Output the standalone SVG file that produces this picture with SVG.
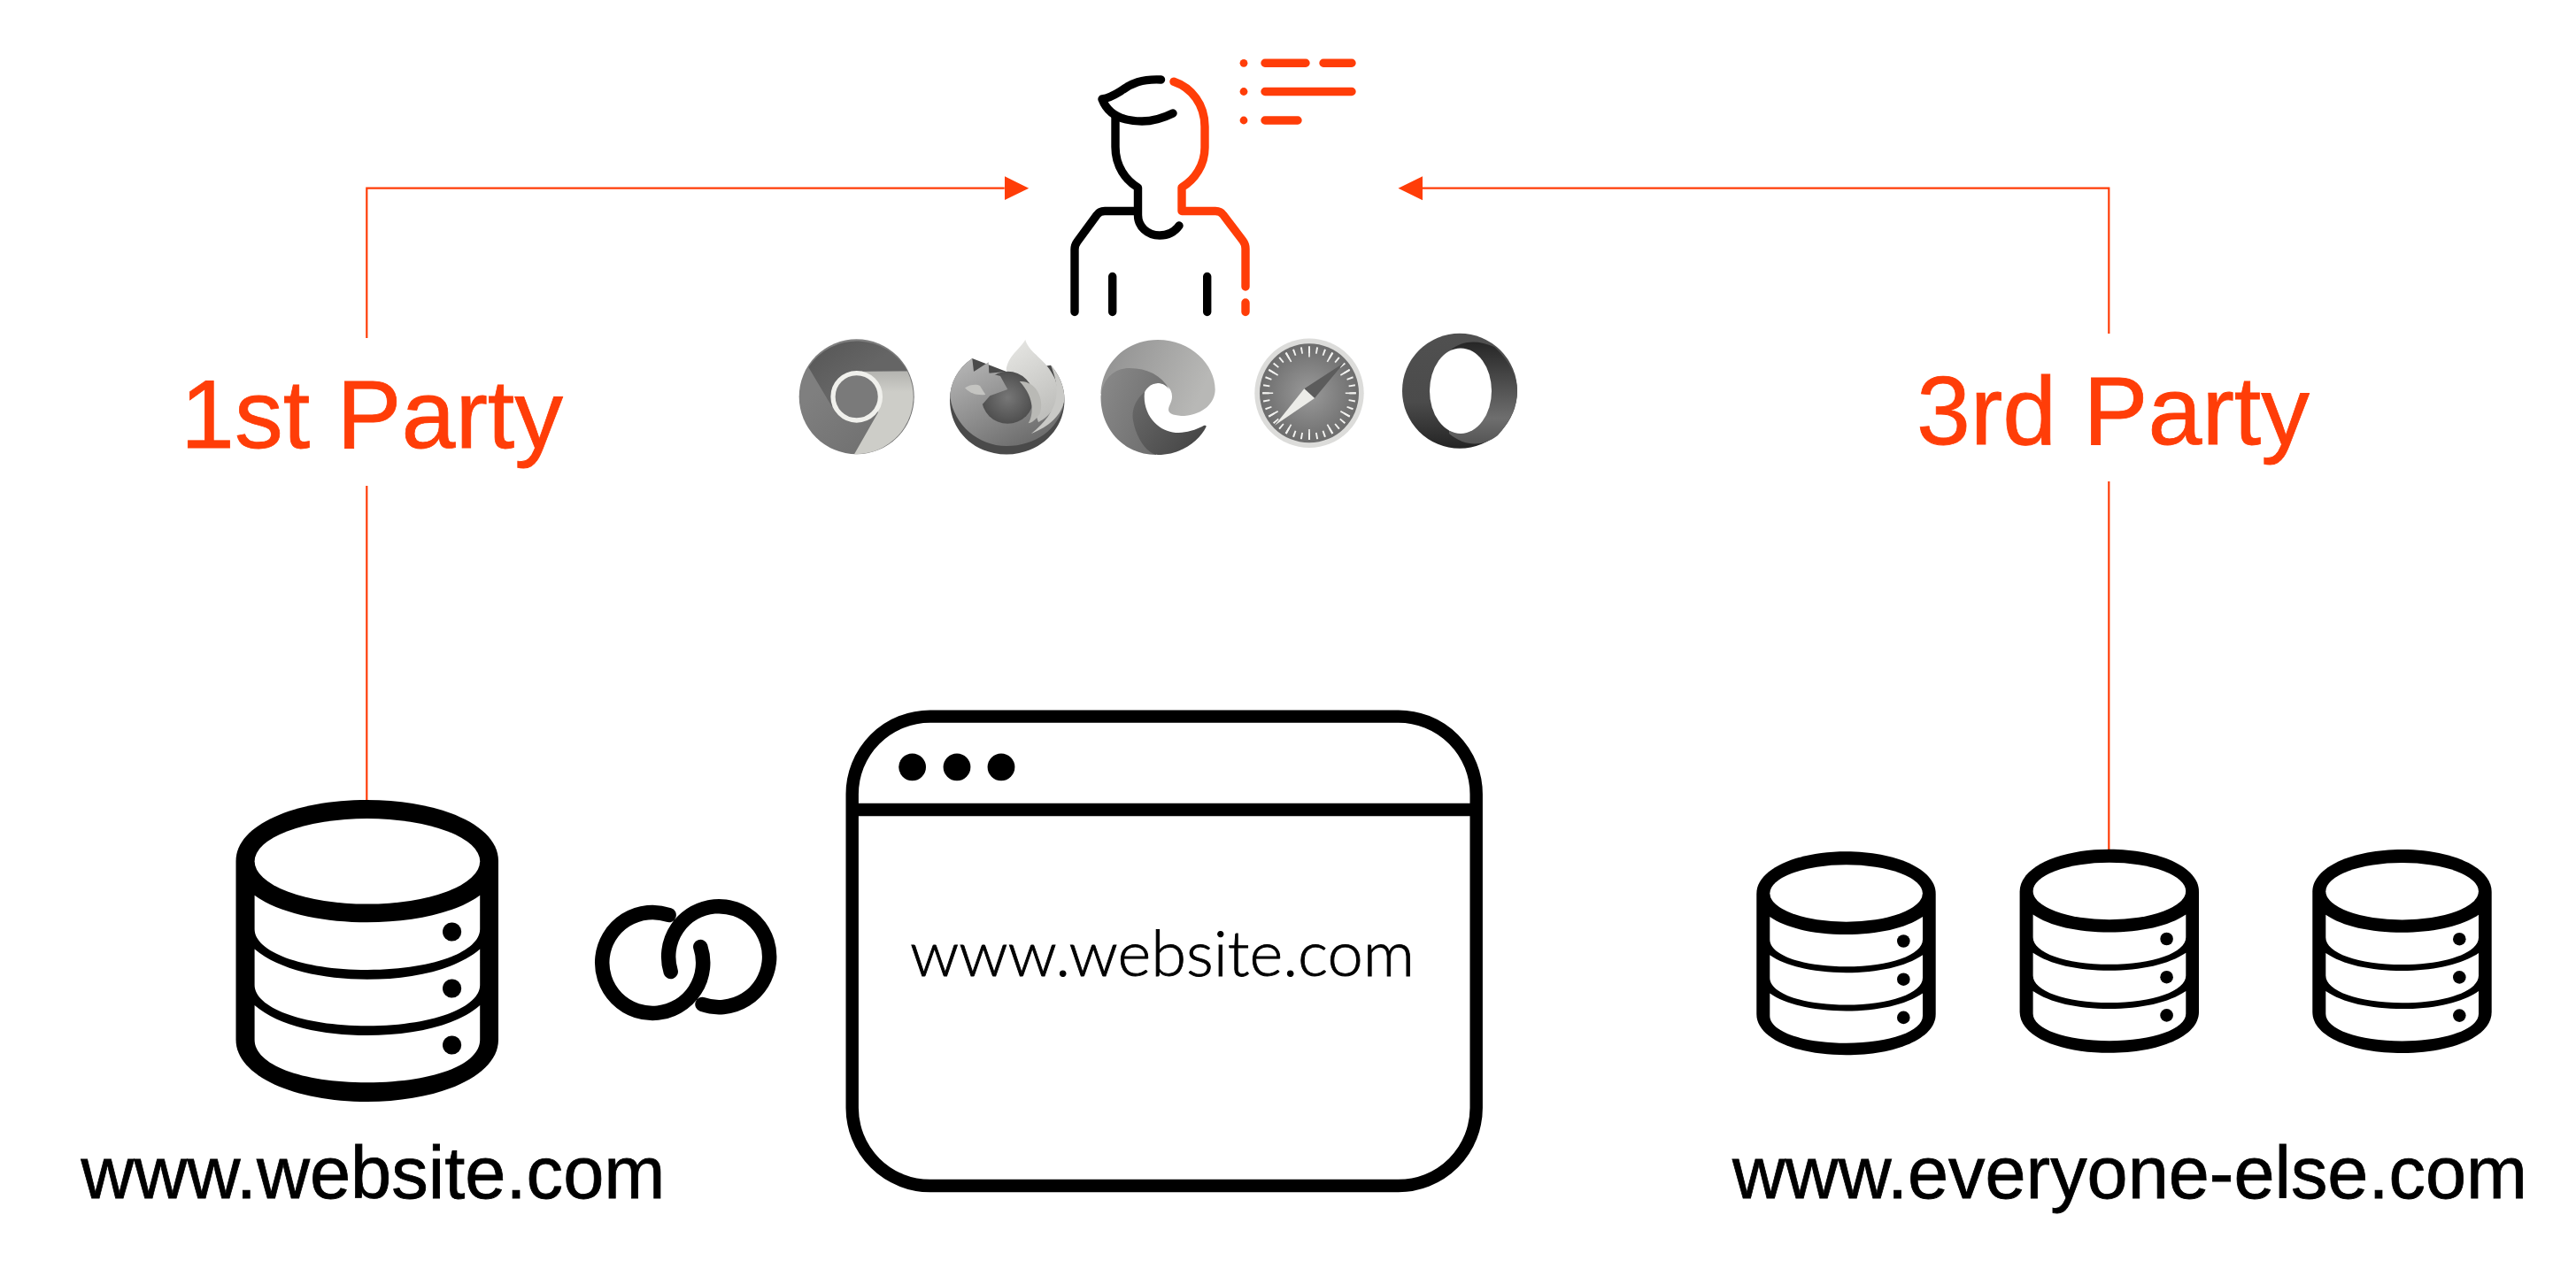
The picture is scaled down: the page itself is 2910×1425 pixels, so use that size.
<svg xmlns="http://www.w3.org/2000/svg" xmlns:xlink="http://www.w3.org/1999/xlink" width="2910" height="1425" viewBox="0 0 2910 1425">
<style>
.conn{fill:none;stroke:#FF3D08;stroke-width:2.2}
.ok{fill:none;stroke:#000;stroke-width:9.4;stroke-linecap:round;stroke-linejoin:round}
.or{fill:none;stroke:#FF3D08;stroke-width:9.4;stroke-linecap:round;stroke-linejoin:round}
.orf{fill:#FF3D08}
.lab{font-family:"Liberation Sans",Arial,sans-serif;stroke-width:0.8}
.w{fill:#fff}
</style>
<defs>
<marker id="arr" markerUnits="userSpaceOnUse" markerWidth="28" markerHeight="28" refX="0" refY="14" orient="auto"><path d="M0 0.5L27.5 14L0 27.5Z" fill="#FF3D08"/></marker>
<g id="dbsmall">
<path d="M1984.3 1010C1984.3 982 2030 962.3 2085.5 962.3C2141 962.3 2186.7 982 2186.7 1010V1146C2186.7 1174 2141 1192.3 2085.5 1192.3C2030 1192.3 1984.3 1174 1984.3 1146Z"/>
<ellipse class="w" cx="2085.6" cy="1009.5" rx="86.3" ry="32.2"/>
<g id="dbband"><path class="w" d="M1999.3 1036C2018 1049 2050 1056 2085.6 1056C2121 1056 2153 1049 2172 1036V1061.7C2172 1079 2135 1092.3 2085.6 1092.3C2036 1092.3 1999.3 1079 1999.3 1061.7Z"/><circle cx="2150.3" cy="1063.5" r="7.3"/></g>
<use href="#dbband" y="43.2"/>
<use href="#dbband" y="86.4"/>
</g>
<linearGradient id="chT" x1="0" y1="0" x2="1" y2="1"><stop offset="0" stop-color="#555"/><stop offset="0.5" stop-color="#656565"/></linearGradient>
<linearGradient id="chR" x1="0" y1="0" x2="0" y2="1"><stop offset="0" stop-color="#b4b4b0"/><stop offset="0.25" stop-color="#cdcdc8"/></linearGradient>
<linearGradient id="chL" x1="0" y1="0" x2="1" y2="1"><stop offset="0.3" stop-color="#7f7f7f"/><stop offset="1" stop-color="#6a6a6a"/></linearGradient>
<linearGradient id="ffMid" gradientUnits="userSpaceOnUse" x1="1095" y1="405" x2="1150" y2="505"><stop offset="0" stop-color="#b4b4b4"/><stop offset="1" stop-color="#6e6e6e"/></linearGradient>
<linearGradient id="ffFl" x1="0.3" y1="0" x2="0.7" y2="1"><stop offset="0" stop-color="#e4e4e1"/><stop offset="1" stop-color="#bdbdba"/></linearGradient>
<radialGradient id="ffG"><stop offset="0" stop-color="#777"/><stop offset="1" stop-color="#4f4f4f"/></radialGradient>
<linearGradient id="edL" x1="0" y1="0" x2="1" y2="0.3"><stop offset="0" stop-color="#8e8e8e"/><stop offset="1" stop-color="#b8b8b6"/></linearGradient>
<linearGradient id="edM" x1="0" y1="0" x2="1" y2="0.5"><stop offset="0" stop-color="#8a8a8a"/><stop offset="1" stop-color="#6e6e6e"/></linearGradient>
<linearGradient id="edD" x1="0" y1="0" x2="1" y2="0.6"><stop offset="0" stop-color="#6a6a6a"/><stop offset="1" stop-color="#474747"/></linearGradient>
<radialGradient id="saf"><stop offset="0" stop-color="#9a9a9a"/><stop offset="1" stop-color="#6d6d6d"/></radialGradient>
<linearGradient id="opR" x1="0" y1="0" x2="0" y2="1"><stop offset="0" stop-color="#262626"/><stop offset="0.75" stop-color="#6e6e6e"/><stop offset="1" stop-color="#555"/></linearGradient>
<linearGradient id="opL" x1="0" y1="0" x2="0" y2="1"><stop offset="0" stop-color="#505050"/><stop offset="0.6" stop-color="#4b4b4b"/><stop offset="1" stop-color="#242424"/></linearGradient>
</defs>
<rect width="2910" height="1425" fill="#fff"/>

<g id="connectors">
<path class="conn" d="M414.3 382V212.7H1134.7" marker-end="url(#arr)"/>
<path class="conn" d="M414.3 549V905"/>
<path class="conn" d="M2382.3 377V212.7H1607" marker-end="url(#arr)"/>
<path class="conn" d="M2382.3 544V960"/>
</g>

<g id="user">
<path class="ok" d="M1311.5 90C1290 89 1278 94 1266 103C1258 108 1252 111 1245 112C1250 125 1262 137 1290 137C1305 137 1315 133 1325 128"/>
<path class="ok" d="M1260 131V166C1260 188 1272 204 1285.5 212V243C1285.5 256 1296 266 1310 266C1320 266 1327 262 1332 255"/>
<path class="ok" d="M1285 238.5H1248Q1242 238.5 1239 243L1217 273Q1214 277 1214 282V352.5"/>
<path class="ok" d="M1256.7 312.5V352.5M1363.7 312.5V352.5"/>
<path class="or" d="M1326 92.3C1346 99 1361 118 1361 143V166.7C1361 186 1350 203 1335 211.7V238.5H1373Q1379 238.5 1382 243L1404 272Q1407 276 1407 281V324M1407 342V352.5"/>
<g class="orf"><circle cx="1405" cy="71.3" r="4.4"/><circle cx="1405" cy="103.5" r="4.4"/><circle cx="1405" cy="136" r="4.4"/></g>
<path class="or" d="M1429 71.3H1475M1495 71.3H1527M1429 103.5H1527M1429 136H1466"/>
</g>

<g id="chrome">
<circle cx="967.7" cy="448.3" r="65" fill="url(#chL)"/>
<path d="M913.3 415A65 65 0 0 1 1025 419.5H967.7L940 460Z" fill="url(#chT)"/>
<path d="M1025 419.5A65 65 0 0 1 965 513.3L992 466L967 420Z" fill="url(#chR)"/>
<circle cx="967.7" cy="448.3" r="26.7" fill="#7a7a7a" stroke="#f0f0ec" stroke-width="5.3"/>
</g>

<g id="firefox">
<path d="M1098.3 405C1082 416 1073 433 1073 452C1073 487 1101 513.5 1137 513.5C1173 513.5 1202.5 487 1202.5 452C1202.5 436 1196 423 1187 412.7L1137 420Z" fill="#4a4a4a"/>
<path d="M1098.3 405C1082 416 1073 433 1073.5 450C1078 480 1105 504 1137 504C1170 504 1195 485 1201.5 458L1190 425L1136 420L1117.3 421.7L1116.7 409.3L1100 420Z" fill="url(#ffMid)"/>
<path d="M1136.7 418.3C1138 403 1151.7 395 1158.3 384C1163 400 1181.7 405 1191.7 428C1194 435 1196 443 1195 450C1190 470 1173 477 1173 477L1160 440Z" fill="url(#ffFl)"/>
<path d="M1187 412.7C1196 423 1202.5 436 1202.5 452C1199 470 1185 482 1165 490C1180 478 1190 465 1193 450C1195 437 1192 425 1187 412.7Z" fill="#c9c9c6"/>
<circle cx="1138.3" cy="449.3" r="29.5" fill="url(#ffG)"/>
<path d="M1151.7 431C1170 430 1180 450 1175 466.7C1170 475 1165 478 1161.7 478.3C1167 470 1170 450 1151.7 431Z" fill="#b9b9b5"/>
<path d="M1100 420L1116 416L1117.3 421.7L1130 425L1138.3 440L1118.3 447.3L1110 456.7C1100 450 1095 440 1100 420Z" fill="url(#ffMid)"/>
<path d="M1090 438.3C1096 434 1104 434 1107 436L1113.3 446C1104 447 1096 445 1090 438.3Z" fill="#c4c4c1"/>
</g>

<g id="edge">
<path d="M1243.5 445C1245 410 1272 384 1308 384C1345 384 1372.7 412 1372.7 440C1372.7 455 1360 468 1338 470C1328 470 1320 468 1320 463C1320 458 1324 455 1324 448C1324 438 1316 433 1308 433L1270 440Z" fill="url(#edL)"/>
<path d="M1243.5 448C1246 428 1258 416 1276 416C1296 416 1312 424 1321 440C1316 434 1312 433 1308 433C1300 433 1293 440 1292 447C1290 462 1297 474 1305 480L1306 514C1270 514 1243 485 1243.5 448Z" fill="url(#edM)"/>
<path d="M1293 443C1282 452 1278 465 1280 475C1284 498 1298 514 1308 514C1335 514 1355 498 1362.7 482C1362 480 1360 481 1358 482C1345 488 1338 489 1328 489C1310 488 1290 470 1293 443Z" fill="url(#edD)"/>
</g>

<g id="safari">
<circle cx="1479" cy="444.3" r="61.7" fill="#dcdcda"/>
<circle cx="1479" cy="444.3" r="56" fill="url(#saf)"/>
<circle cx="1479" cy="444.3" r="49" fill="none" stroke="#f2f2f0" stroke-width="7.4" pathLength="360" stroke-dasharray="2.2 7.8" stroke-dashoffset="1.1"/>
<circle cx="1479" cy="444.3" r="46.8" fill="none" stroke="#f2f2f0" stroke-width="12" pathLength="360" stroke-dasharray="2.3 27.7" stroke-dashoffset="1.15"/>
<path d="M1518.3 410L1473.3 439.3L1485 450Z" fill="#5c5c5c"/>
<path d="M1440 480.7L1473.3 439.3L1485 450Z" fill="#ecece8"/>
</g>

<g id="opera">
<circle cx="1649" cy="441.7" r="65" fill="url(#opL)"/>
<path d="M1638 396C1652 384 1670 384 1688 392C1703 405 1714 425 1714 441.7C1714 460 1705 478 1692 492C1675 505 1655 505 1637 490Z" fill="url(#opR)"/>
<ellipse cx="1650" cy="441.7" rx="35" ry="48.3" fill="#fff"/>
</g>

<g id="label-1st"><text class="lab" x="204" y="506" font-size="110" textLength="432" lengthAdjust="spacingAndGlyphs" fill="#FF3D08" stroke="#FF3D08">1st Party</text></g>
<g id="label-3rd"><text class="lab" x="2165" y="502" font-size="110" textLength="444" lengthAdjust="spacingAndGlyphs" fill="#FF3D08" stroke="#FF3D08">3rd Party</text></g>

<g id="db-first">
<path d="M266.5 973C266.5 932 333 904 414.7 904C496 904 563 932 563 973V1175C563 1216 496 1245 414.7 1245C333 1245 266.5 1216 266.5 1175Z"/>
<ellipse class="w" cx="414.9" cy="973.3" rx="127.3" ry="48.3"/>
<path class="w" d="M287.6 1011.7C315 1032 365 1042.3 414.9 1042.3C465 1042.3 515 1032 542.2 1011.7V1050C542.2 1075 490 1096 414.9 1096C340 1096 287.6 1075 287.6 1050Z"/>
<path class="w" d="M287.6 1072.5C315 1096 365 1106.7 414.9 1106.7C465 1106.7 515 1096 542.2 1072.5V1113.3C542.2 1138 490 1159.3 414.9 1159.3C340 1159.3 287.6 1138 287.6 1113.3Z"/>
<path class="w" d="M287.6 1136C315 1160 365 1170 414.9 1170C465 1170 515 1160 542.2 1136V1175C542.2 1203 490 1223.3 414.9 1223.3C340 1223.3 287.6 1203 287.6 1175Z"/>
<circle cx="510.6" cy="1053" r="10.6"/><circle cx="510.6" cy="1117" r="10.6"/><circle cx="510.6" cy="1181" r="10.6"/>
</g>

<g id="link">
<path d="M755.6 1034A57 57 0 1 0 791.3 1070M757.7 1098A57 57 0 1 1 793.5 1135" fill="none" stroke="#000" stroke-width="16.5" stroke-linecap="round"/>
</g>

<g id="window">
<rect x="962.7" y="809.6" width="705" height="530.4" rx="88" ry="88" fill="none" stroke="#000" stroke-width="14.4"/>
<path d="M962.7 915H1667.7" stroke="#000" stroke-width="14.4"/>
<circle cx="1030.6" cy="866.8" r="15.4"/><circle cx="1081" cy="866.8" r="15.4"/><circle cx="1131" cy="866.8" r="15.4"/>
<text x="1028" y="1102.7" font-family="Lato,'Open Sans',sans-serif" font-weight="300" font-size="71" textLength="570" lengthAdjust="spacingAndGlyphs" stroke="#000" stroke-width="0.9">www.website.com</text>
</g>

<g id="label-website"><text class="lab" x="91.5" y="1354" font-size="84" textLength="660" lengthAdjust="spacingAndGlyphs" stroke="#000">www.website.com</text></g>

<g id="db-a"><use href="#dbsmall"/></g>
<g id="db-b"><use href="#dbsmall" x="297.3" y="-2.5"/></g>
<g id="db-c"><use href="#dbsmall" x="628" y="-2.3"/></g>

<g id="label-else"><text class="lab" x="1957" y="1354" font-size="84" textLength="898" lengthAdjust="spacingAndGlyphs" stroke="#000">www.everyone-else.com</text></g>
</svg>
